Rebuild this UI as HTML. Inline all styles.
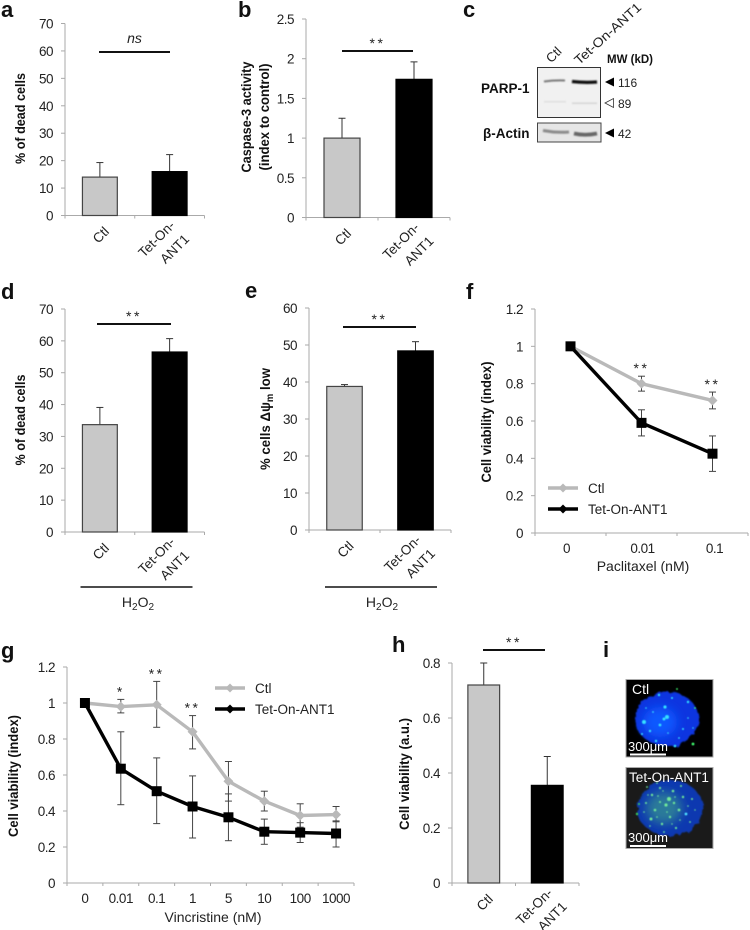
<!DOCTYPE html>
<html lang="en">
<head>
<meta charset="utf-8">
<title>Tet-On-ANT1 cell death and viability panels</title>
<style>
html,body{margin:0;padding:0;background:#fff;}
svg{display:block;filter:blur(0.3px);}
text{font-family:"Liberation Sans",sans-serif;fill:#222;}
.letter{font-size:22px;font-weight:bold;fill:#111;}
.bold{font-weight:bold;fill:#111;}
</style>
</head>
<body>
<svg id="figure" xmlns="http://www.w3.org/2000/svg" width="750" height="930" viewBox="0 0 750 930">
  <defs>
    <filter id="soft" x="-20%" y="-60%" width="140%" height="220%"><feGaussianBlur stdDeviation="0.7"/></filter>
    <filter id="glow" x="-30%" y="-30%" width="160%" height="160%"><feGaussianBlur stdDeviation="0.55"/></filter>
    <filter id="core" x="-40%" y="-40%" width="180%" height="180%"><feGaussianBlur stdDeviation="5"/></filter>
    <filter id="lump" x="-20%" y="-20%" width="140%" height="140%">
      <feTurbulence type="fractalNoise" baseFrequency="0.16" numOctaves="2" seed="4" result="n"/>
      <feDisplacementMap in="SourceGraphic" in2="n" scale="6" result="d"/>
      <feGaussianBlur in="d" stdDeviation="0.8"/>
    </filter>
  </defs>

  <text class="letter" x="1" y="17">a</text>
  <text class="letter" x="238" y="17">b</text>
  <text class="letter" x="463" y="17">c</text>
  <text class="letter" x="1" y="299">d</text>
  <text class="letter" x="245" y="298">e</text>
  <text class="letter" x="466" y="299">f</text>
  <text class="letter" x="1" y="658">g</text>
  <text class="letter" x="392" y="652">h</text>
  <text class="letter" x="603" y="657">i</text>

  <!-- Panel c: western blot -->
  <g>
    <text x="554" y="59" font-size="13" text-anchor="middle" transform="rotate(-45 554 55)">Ctl</text>
    <text x="608" y="38" font-size="13" text-anchor="middle" textLength="85" lengthAdjust="spacingAndGlyphs" transform="rotate(-42 608 34)">Tet-On-ANT1</text>
    <text class="bold" x="607" y="63" font-size="11.5">MW (kD)</text>
    <text class="bold" x="481" y="93" font-size="13.5">PARP-1</text>
    <text class="bold" x="483" y="138" font-size="13.5">β-Actin</text>
    <rect x="537.5" y="67.5" width="63" height="50" fill="#f1f1f1" stroke="#333" stroke-width="1"/>
    <rect x="537.5" y="123" width="63.5" height="19" fill="#e6e6e6" stroke="#444" stroke-width="1"/>
    <g filter="url(#soft)">
      <path d="M544 81.5 Q555 80 565 80.5" stroke="#777" stroke-width="2" fill="none"/>
      <path d="M572 81.5 Q585 83 597 82" stroke="#111" stroke-width="3.2" fill="none"/>
      <rect x="544" y="101" width="22" height="1.5" fill="#dedede"/>
      <rect x="572" y="102.5" width="25" height="1.5" fill="#d4d4d4"/>
      <path d="M543 130.5 Q556 133 569 132" stroke="#8a8a8a" stroke-width="3" fill="none"/>
      <path d="M574 133.5 Q585 136 597 133.5" stroke="#666" stroke-width="3.8" fill="none"/>
    </g>
    <polygon points="605,82 614,77.5 614,86.5" fill="#000"/>
    <polygon points="605,103 613.5,98.5 613.5,107.5" fill="#fff" stroke="#333" stroke-width="0.8"/>
    <polygon points="605,133 614,128.5 614,137.5" fill="#000"/>
    <text x="618" y="87" font-size="12">116</text>
    <text x="618" y="108" font-size="12">89</text>
    <text x="618" y="138" font-size="12">42</text>
  </g>

  <!-- Panel i: spheroid fluorescence -->
  <g>
    <rect x="626" y="679.5" width="87" height="77.5" fill="#000" stroke="#aaa" stroke-width="1"/>
    <ellipse cx="667" cy="719" rx="32" ry="27" fill="#0a36e0" filter="url(#lump)"/>
    <ellipse cx="660" cy="722" rx="17" ry="15" fill="#0f58ff" filter="url(#core)"/>
    <g fill="#35e0ff" filter="url(#glow)">
      <circle cx="644" cy="722" r="2"/><circle cx="665" cy="707" r="1.6"/><circle cx="667" cy="717" r="2"/><circle cx="664" cy="719" r="1.5"/>
      <circle cx="660" cy="725" r="1.4"/><circle cx="659" cy="695" r="1.2"/><circle cx="688" cy="702" r="1.2"/><circle cx="656" cy="741" r="1.2"/>
      <circle cx="675" cy="746" r="1.3"/><circle cx="650" cy="731" r="1.2"/><circle cx="642" cy="734" r="1"/><circle cx="683" cy="729" r="1"/>
      <circle cx="672" cy="698" r="1"/><circle cx="679" cy="738" r="0.9"/><circle cx="653" cy="712" r="0.9"/><circle cx="688" cy="718" r="0.8"/>
      <circle cx="646" cy="708" r="0.8"/><circle cx="668" cy="733" r="0.8"/><circle cx="693" cy="728" r="0.7"/><circle cx="663" cy="746" r="0.8"/>
      <circle cx="693" cy="744" fill="#40ff70" r="1.4"/><circle cx="677" cy="689" fill="#40ff70" r="0.9"/><circle cx="695" cy="708" fill="#40ff70" r="0.9"/>
    </g>
    <text x="632" y="694" font-size="14" style="fill:#fff">Ctl</text>
    <text x="628" y="751" font-size="13" style="fill:#fff">300μm</text>
    <rect x="630" y="753.5" width="36" height="2" fill="#fff"/>

    <rect x="626" y="767.5" width="87" height="81" fill="#1a1a1a" stroke="#aaa" stroke-width="1"/>
    <ellipse cx="670" cy="808" rx="33" ry="28" fill="#0c38b0" filter="url(#lump)"/>
    <ellipse cx="664" cy="808" rx="18" ry="16" fill="#2a7a9a" filter="url(#core)"/>
    <g fill="#6fe89a" filter="url(#glow)">
      <circle cx="669" cy="799" r="2"/><circle cx="666" cy="805" r="1.6"/><circle cx="673" cy="791" r="1.3"/><circle cx="660" cy="788" r="1.1"/>
      <circle cx="652" cy="795" r="1.2"/><circle cx="646" cy="803" r="1"/><circle cx="655" cy="810" r="1.3"/><circle cx="651" cy="819" r="1.5"/>
      <circle cx="662" cy="824" r="1.2"/><circle cx="670" cy="817" r="1.2"/><circle cx="679" cy="810" r="1.4"/><circle cx="686" cy="814" r="1.4" fill="#50e0ff"/>
      <circle cx="683" cy="797" r="1.2"/><circle cx="692" cy="799" r="1"/><circle cx="676" cy="828" r="1.1"/><circle cx="639" cy="804" r="1" fill="#40d050"/>
      <circle cx="637" cy="814" r="1.2" fill="#40d050"/><circle cx="660" cy="802" r="1"/><circle cx="674" cy="803" r="1.2"/><circle cx="690" cy="822" r="0.9"/>
      <circle cx="664" cy="832" r="0.9"/><circle cx="657" cy="783" r="0.9"/><circle cx="681" cy="786" r="1"/><circle cx="647" cy="787" r="0.9"/>
      <circle cx="658" cy="796" r="0.8"/><circle cx="644" cy="812" r="0.8"/><circle cx="650" cy="826" r="0.8"/><circle cx="657" cy="817" r="0.8"/>
      <circle cx="667" cy="812" r="0.8"/><circle cx="675" cy="797" r="0.8"/><circle cx="680" cy="820" r="0.8"/><circle cx="688" cy="806" r="0.8"/>
      <circle cx="695" cy="810" r="0.7"/><circle cx="672" cy="824" r="0.7"/><circle cx="663" cy="791" r="0.7"/><circle cx="648" cy="795" r="0.7"/>
    </g>
    <text x="629" y="782" font-size="13.5" textLength="80" lengthAdjust="spacingAndGlyphs" style="fill:#fff">Tet-On-ANT1</text>
    <text x="628" y="842" font-size="13" style="fill:#fff">300μm</text>
    <rect x="630" y="845" width="36" height="2" fill="#fff"/>
  </g>
</svg>

<script>
// ---- Bar chart data ----
const barCategoryLines = [['Ctl'], ['Tet-On-', 'ANT1']];
const aValues = [14, 16];
const aErrors = [5.3, 6.2];
const aTicks = [0, 10, 20, 30, 40, 50, 60, 70];
const bValues = [1, 1.74];
const bErrors = [0.25, 0.22];
const bTicks = [0, 0.5, 1, 1.5, 2, 2.5];
const dValues = [33.7, 56.5];
const dErrors = [5.4, 4.2];
const dTicks = [0, 10, 20, 30, 40, 50, 60, 70];
const eValues = [38.8, 48.4];
const eErrors = [0.5, 2.5];
const eTicks = [0, 10, 20, 30, 40, 50, 60];
const hValues = [0.72, 0.355];
const hErrors = [0.08, 0.105];
const hTicks = [0, 0.2, 0.4, 0.6, 0.8];

// ---- Line chart data: panel f ----
const fCategories = ['0', '0.01', '0.1'];
const fTicks = [0, 0.2, 0.4, 0.6, 0.8, 1, 1.2];
const fCtl = [1, 0.8, 0.71];
const fCtlHigh = [1, 0.84, 0.755];
const fCtlLow = [1, 0.76, 0.665];
const fTet = [1, 0.59, 0.425];
const fTetHigh = [1, 0.66, 0.52];
const fTetLow = [1, 0.52, 0.33];

// ---- Line chart data: panel g ----
const gCategories = ['0', '0.01', '0.1', '1', '5', '10', '100', '1000'];
const gTicks = [0, 0.2, 0.4, 0.6, 0.8, 1, 1.2];
const gCtl = [1, 0.98, 0.99, 0.84, 0.565, 0.455, 0.375, 0.38];
const gCtlHigh = [1, 1.02, 1.12, 0.93, 0.675, 0.51, 0.44, 0.425];
const gCtlLow = [1, 0.945, 0.865, 0.745, 0.455, 0.4, 0.31, 0.34];
const gTet = [1, 0.635, 0.51, 0.425, 0.365, 0.285, 0.28, 0.275];
const gTetHigh = [1, 0.84, 0.695, 0.595, 0.495, 0.355, 0.335, 0.345];
const gTetLow = [1, 0.435, 0.33, 0.25, 0.235, 0.215, 0.225, 0.2];

const svg = document.getElementById('figure');
const NS = 'http://www.w3.org/2000/svg';

function make(parent, tag, attrs) {
  const node = document.createElementNS(NS, tag);
  for (const key in attrs) node.setAttribute(key, attrs[key]);
  parent.appendChild(node);
  return node;
}
function line(parent, name, x1, y1, x2, y2, stroke, width) {
  const l = make(parent, 'line', { x1, y1, x2, y2, stroke, 'stroke-width': width });
  
  
  return l;
}
function label(parent, name, str, x, y, size, opts) {
  const t = make(parent, 'text', Object.assign({ x, y, 'font-size': size }, opts || {}));
  
  
  t.textContent = str;
  return t;
}
function yTitle(parent, name, str, x, cy, length) {
  return label(parent, name, str, x, cy, 14, {
    class: 'bold', 'text-anchor': 'middle',
    textLength: length, lengthAdjust: 'spacingAndGlyphs',
    transform: 'rotate(-90 ' + x + ' ' + cy + ')'
  });
}
function drawAxes(g, box, ticks, yMax, xCount) {
  const y = v => box.y0 - (v / yMax) * (box.y0 - box.yTop);
  line(g, 'y-axis', box.x0, box.yTop, box.x0, box.y0, '#aaa', 1);
  line(g, 'x-axis', box.x0 - 4, box.y0, box.x1, box.y0, '#aaa', 1);
  ticks.forEach(v => {
    line(g, 'y-tick', box.x0 - 4, y(v), box.x0, y(v), '#aaa', 1);
    label(g, 'y-tick-label', String(v), box.x0 - 12, y(v) + 5, 13.5, { 'text-anchor': 'end', 'letter-spacing': '-0.5px' });
  });
  for (let i = 0; i <= xCount; i++) {
    const x = box.x0 + (box.x1 - box.x0) * i / xCount;
    line(g, 'x-tick', x, box.y0, x, box.y0 + 3, '#aaa', 1);
  }
  return y;
}
function errorBar(g, name, x, yHigh, yLow, color) {
  line(g, name + '-stem', x, yHigh, x, yLow, color, 1);
  line(g, name + '-cap-high', x - 3.5, yHigh, x + 3.5, yHigh, color, 1);
  line(g, name + '-cap-low', x - 3.5, yLow, x + 3.5, yLow, color, 1);
}
function stars(g, str, x, y) {
  label(g, 'significance-label', str, x, y, 14, { 'text-anchor': 'middle', 'letter-spacing': '2.5px' });
}
function barPanel(name, box, values, errors, ticks, sig) {
  const g = make(svg, 'g', {});
  
  
  const yMax = ticks[ticks.length - 1];
  const y = drawAxes(g, box, ticks, yMax, values.length);
  const band = (box.x1 - box.x0) / values.length;
  const fills = ['#c8c8c8', '#000'];
  values.forEach((v, i) => {
    const cx = box.x0 + band * (i + 0.5);
    const top = y(v + errors[i]);
    line(g, 'bar-error-stem', cx, top, cx, y(v), '#333', 1);
    line(g, 'bar-error-cap', cx - 3.5, top, cx + 3.5, top, '#333', 1);
    const bw = band * 0.5;
    const r = make(g, 'rect', { x: cx - bw / 2, y: y(v), width: bw, height: box.y0 - y(v), fill: fills[i], stroke: i ? '#000' : '#444', 'stroke-width': 1.2 });
    
    
    if (barCategoryLines[i].length === 1) {
      const lx = cx + 1, ly = box.y0 + 19.5;
      label(g, 'x-category-label', barCategoryLines[i][0], lx, ly + 4.5, 13.5, { 'text-anchor': 'middle', transform: 'rotate(-45 ' + lx + ' ' + ly + ')' });
    } else {
      const ax = cx - 13, ay = box.y0 + 23.5, bx = cx + 5, by = box.y0 + 33.5;
      label(g, 'x-category-label', barCategoryLines[i][0], ax, ay + 4.5, 13.5, { 'text-anchor': 'middle', transform: 'rotate(-45 ' + ax + ' ' + ay + ')' });
      label(g, 'x-category-label', barCategoryLines[i][1], bx, by + 4.5, 13.5, { 'text-anchor': 'middle', transform: 'rotate(-45 ' + bx + ' ' + by + ')' });
    }
  });
  line(g, 'significance-bar', sig.x1, sig.y, sig.x2, sig.y, '#111', 2);
  if (sig.text === 'ns') {
    label(g, 'significance-label', 'ns', (sig.x1 + sig.x2) / 2, sig.y - 9, 14, { 'text-anchor': 'middle', 'font-style': 'italic' });
  } else {
    stars(g, sig.text, (sig.x1 + sig.x2) / 2, sig.y - 3);
  }
  return g;
}
function diamond(g, name, x, y, r, color) {
  const d = make(g, 'polygon', { points: [x, y - r, x + r, y, x, y + r, x - r, y].reduce((s, v, i) => s + (i % 2 ? ',' : ' ') + v, ''), fill: color });
  
  
}
function linePanel(name, box, categories, ticks, series) {
  const g = make(svg, 'g', {});
  
  
  const yMax = ticks[ticks.length - 1];
  const y = drawAxes(g, box, ticks, yMax, categories.length);
  const band = (box.x1 - box.x0) / categories.length;
  const x = i => box.x0 + band * (i + 0.5);
  categories.forEach((c, i) => {
    const shift = box.labelShift ? box.labelShift[i] : 0;
    label(g, 'x-category-label', c, x(i) + shift, box.y0 + 20, 13.5, { 'text-anchor': 'middle', 'letter-spacing': '-0.5px' });
  });
  series.forEach(s => {
    s.values.forEach((v, i) => {
      if (s.high[i] !== s.low[i]) errorBar(g, s.key + '-error', x(i), y(s.high[i]), y(s.low[i]), '#444');
    });
  });
  series.forEach(s => {
    const path = make(g, 'polyline', { points: s.values.map((v, i) => x(i) + ',' + y(v)).join(' '), fill: 'none', stroke: s.color, 'stroke-width': 3.4, 'stroke-linejoin': 'round' });
    
    
    s.values.forEach((v, i) => {
      if (s.square) {
        const m = make(g, 'rect', { x: x(i) - 5, y: y(v) - 5, width: 10, height: 10, fill: s.color });
        
        
      } else {
        diamond(g, s.key + '-point', x(i), y(v), 5, s.color);
      }
    });
  });
  return { g, y, x };
}
function legendEntry(g, key, str, x, y, color) {
  line(g, key + '-legend-line', x, y, x + 30, y, color, 3.4);
  diamond(g, key + '-legend-marker', x + 15, y, 4.5, color);
  label(g, key + '-legend-label', str, x + 40, y + 5, 13.5);
}

// Panel a
const panelA = barPanel('panel-a-dead-cells', { x0: 65, x1: 204.5, y0: 215.5, yTop: 23.5 }, aValues, aErrors, aTicks, { x1: 99, x2: 170, y: 52, text: 'ns' });
yTitle(panelA, 'y-axis-title', '% of dead cells', 25, 118.5, 91);

// Panel b
const panelB = barPanel('panel-b-caspase', { x0: 306, x1: 450, y0: 217.5, yTop: 19 }, bValues, bErrors, bTicks, { x1: 342, x2: 413, y: 51, text: '**' });
yTitle(panelB, 'y-axis-title-line-1', 'Caspase-3 activity', 251, 117, 111);
yTitle(panelB, 'y-axis-title-line-2', '(index to control)', 269, 117, 107);

// Panel d
const panelD = barPanel('panel-d-dead-cells-h2o2', { x0: 65, x1: 204.5, y0: 532, yTop: 309 }, dValues, dErrors, dTicks, { x1: 97, x2: 171, y: 324, text: '**' });
yTitle(panelD, 'y-axis-title', '% of dead cells', 25, 420, 91);
line(panelD, 'h2o2-bracket', 80.5, 587, 192.5, 587, '#111', 1.5);
const h2o2D = label(panelD, 'h2o2-label', 'H', 138, 607, 14, { 'text-anchor': 'middle' });
h2o2D.innerHTML = 'H<tspan font-size="10" dy="3">2</tspan><tspan dy="-3">O</tspan><tspan font-size="10" dy="3">2</tspan>';

// Panel e
const panelE = barPanel('panel-e-membrane-potential', { x0: 309, x1: 451, y0: 530, yTop: 308 }, eValues, eErrors, eTicks, { x1: 343, x2: 416, y: 327, text: '**' });
const eTitle = yTitle(panelE, 'y-axis-title', '', 270, 419, 102);
eTitle.innerHTML = '% cells  Δψ<tspan font-size="10" dy="3">m</tspan><tspan dy="-3"> low</tspan>';
line(panelE, 'h2o2-bracket', 325, 587, 437, 587, '#111', 1.5);
const h2o2E = label(panelE, 'h2o2-label', 'H', 382, 607, 14, { 'text-anchor': 'middle' });
h2o2E.innerHTML = 'H<tspan font-size="10" dy="3">2</tspan><tspan dy="-3">O</tspan><tspan font-size="10" dy="3">2</tspan>';

// Panel f
const panelF = linePanel('panel-f-paclitaxel', { x0: 535, x1: 748, y0: 533, yTop: 309, labelShift: [-4, 1, 2] }, fCategories, fTicks, [
  { key: 'ctl', values: fCtl, high: fCtlHigh, low: fCtlLow, color: '#b9b9b9', square: false },
  { key: 'tet-on-ant1', values: fTet, high: fTetHigh, low: fTetLow, color: '#000', square: true }
]);
yTitle(panelF.g, 'y-axis-title', 'Cell viability (index)', 491, 422, 121);
label(panelF.g, 'x-axis-title', 'Paclitaxel (nM)', 643, 571, 14, { 'text-anchor': 'middle' });
legendEntry(panelF.g, 'ctl', 'Ctl', 548, 488, '#b9b9b9');
legendEntry(panelF.g, 'tet-on-ant1', 'Tet-On-ANT1', 548, 509, '#000');
stars(panelF.g, '**', panelF.x(1), panelF.y(0.84) - 3);
stars(panelF.g, '**', panelF.x(2), panelF.y(0.755) - 3);

// Panel g
const panelG = linePanel('panel-g-vincristine', { x0: 67, x1: 354, y0: 883, yTop: 667 }, gCategories, gTicks, [
  { key: 'ctl', values: gCtl, high: gCtlHigh, low: gCtlLow, color: '#b9b9b9', square: false },
  { key: 'tet-on-ant1', values: gTet, high: gTetHigh, low: gTetLow, color: '#000', square: true }
]);
yTitle(panelG.g, 'y-axis-title', 'Cell viability (index)', 18, 776, 122);
label(panelG.g, 'x-axis-title', 'Vincristine (nM)', 213, 922, 14, { 'text-anchor': 'middle' });
legendEntry(panelG.g, 'ctl', 'Ctl', 215, 688, '#b9b9b9');
legendEntry(panelG.g, 'tet-on-ant1', 'Tet-On-ANT1', 215, 709, '#000');
stars(panelG.g, '*', panelG.x(1), panelG.y(1.02) - 3);
stars(panelG.g, '**', panelG.x(2), panelG.y(1.12) - 3);
stars(panelG.g, '**', panelG.x(3), panelG.y(0.93) - 3);

// Panel h
const panelH = barPanel('panel-h-cell-viability', { x0: 452, x1: 579, y0: 883, yTop: 663 }, hValues, hErrors, hTicks, { x1: 483, x2: 545, y: 650, text: '**' });
yTitle(panelH, 'y-axis-title', 'Cell viability (a.u.)', 409, 774, 112);
</script>
</body>
</html>
